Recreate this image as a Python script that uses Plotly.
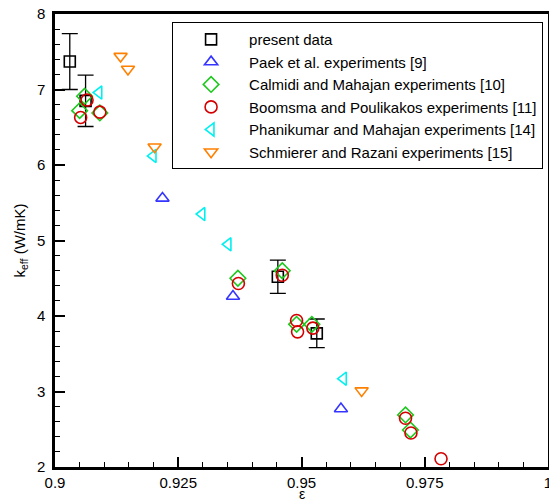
import plotly.graph_objects as go

# Effective thermal conductivity of metal foams vs porosity
present_eps = [0.903, 0.9062, 0.9452, 0.9531]
present_k = [7.37, 6.85, 4.52, 3.77]
present_err = [0.37, 0.34, 0.22, 0.19]

paek_eps = [0.9218, 0.9361, 0.958]
paek_k = [5.56, 4.26, 2.77]

calmidi_eps = [0.906, 0.905, 0.9091, 0.9371, 0.9461, 0.949, 0.9521, 0.9711, 0.9721]
calmidi_k = [6.91, 6.72, 6.69, 4.50, 4.60, 3.89, 3.89, 2.69, 2.49]

boomsma_eps = [0.9065, 0.9052, 0.9091, 0.9372, 0.9461, 0.949, 0.9492, 0.9523, 0.9711, 0.9722, 0.9783]
boomsma_k = [6.86, 6.63, 6.70, 4.43, 4.54, 3.94, 3.79, 3.84, 2.645, 2.45, 2.11]

phanikumar_eps = [0.9089, 0.9199, 0.9298, 0.9351, 0.9585]
phanikumar_k = [6.96, 6.12, 5.35, 4.95, 3.17]

schmierer_eps = [0.9133, 0.9148, 0.9202, 0.9622]
schmierer_k = [7.44, 7.27, 6.24, 3.01]

x_tickvals = [0.9, 0.925, 0.95, 0.975, 1.0]
x_ticktext = ["0.9", "0.925", "0.95", "0.975", "1"]
y_tickvals = [2, 3, 4, 5, 6, 7, 8]

FONT = "Liberation Sans, Arial, sans-serif"

fig = go.Figure()

fig.add_trace(go.Scatter(
    x=present_eps, y=present_k, mode="markers", name="present data",
    marker=dict(symbol="square-open", size=11, color="black", line=dict(width=1.6)),
    error_y=dict(type="data", array=present_err, visible=True, color="black",
                 thickness=1.3, width=8),
))
fig.add_trace(go.Scatter(
    x=paek_eps, y=paek_k, mode="markers", name="Paek et al. experiments [9]",
    marker=dict(symbol="triangle-up-open", size=11.5, color="#3535ff", line=dict(width=1.6)),
))
fig.add_trace(go.Scatter(
    x=calmidi_eps, y=calmidi_k, mode="markers", name="Calmidi and Mahajan experiments [10]",
    marker=dict(symbol="diamond-open", size=12, color="#1ec81e", line=dict(width=1.6)),
))
fig.add_trace(go.Scatter(
    x=boomsma_eps, y=boomsma_k, mode="markers", name="Boomsma and Poulikakos experiments [11]",
    marker=dict(symbol="circle-open", size=12, color="#d40000", line=dict(width=1.6)),
))
fig.add_trace(go.Scatter(
    x=phanikumar_eps, y=phanikumar_k, mode="markers", name="Phanikumar and Mahajan experiments [14]",
    marker=dict(symbol="triangle-left-open", size=11.5, color="#00f0f0", line=dict(width=1.6)),
))
fig.add_trace(go.Scatter(
    x=schmierer_eps, y=schmierer_k, mode="markers", name="Schmierer and Razani experiments [15]",
    marker=dict(symbol="triangle-down-open", size=11.5, color="#ff8000", line=dict(width=1.6)),
))

axis_common = dict(
    showgrid=False, zeroline=False,
    showline=True, linecolor="black", linewidth=2.5, mirror=True,
    ticks="inside", ticklen=10, tickwidth=2, tickcolor="black",
    tickfont=dict(family=FONT, size=15, color="black"),
    ticklabeloverflow="allow",
)

fig.update_xaxes(
    range=[0.9, 1.0], tickmode="array", tickvals=x_tickvals, ticktext=x_ticktext,
    minor=dict(tickmode="linear", tick0=0.9, dtick=0.005, ticks="inside",
               ticklen=5, tickwidth=1, tickcolor="black"),
    ticklabelstandoff=0,
    **axis_common,
)
fig.update_yaxes(
    range=[2, 8], tickmode="array", tickvals=y_tickvals,
    minor=dict(tickmode="linear", tick0=2, dtick=0.2, ticks="inside",
               ticklen=5, tickwidth=1, tickcolor="black"),
    title=dict(text="k<sub>eff</sub> (W/mK)", font=dict(family=FONT, size=15, color="black"),
               standoff=8),
    ticklabelstandoff=4,
    **axis_common,
)

# x-axis title, set at the bottom edge below the tick labels
fig.add_annotation(
    text="ε", xref="paper", yref="paper", x=0.5, y=-37 / 453,
    xanchor="center", yanchor="bottom", showarrow=False,
    font=dict(family=FONT, size=14, color="black"),
)

fig.update_layout(
    width=549, height=504,
    margin=dict(l=55, r=1, t=14, b=37, autoexpand=False),
    paper_bgcolor="white", plot_bgcolor="white",
    font=dict(family=FONT, size=15, color="black"),
    showlegend=True,
    legend=dict(
        x=0.99, y=0.982, xanchor="right", yanchor="top",
        bgcolor="white", bordercolor="black", borderwidth=1,
        font=dict(family=FONT, size=15, color="black"),
        itemwidth=66,
    ),
)

fig.write_html("out.html")
